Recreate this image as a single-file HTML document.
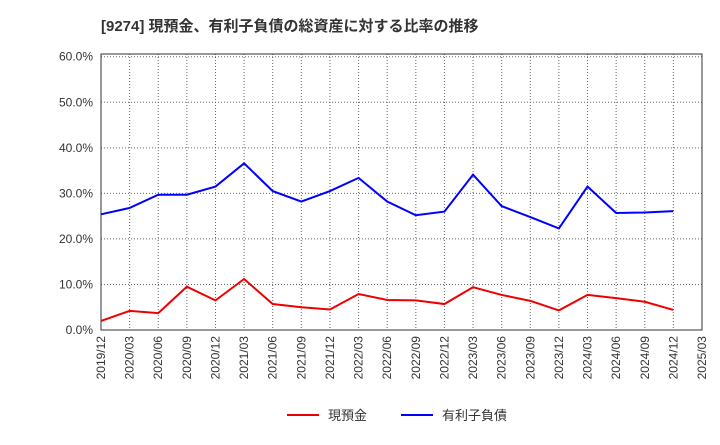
<!DOCTYPE html>
<html><head><meta charset="utf-8"><style>
body{margin:0;background:#fff;font-family:"Liberation Sans","Noto Sans CJK JP",sans-serif}
</style></head><body>
<svg id="c" width="720" height="440" xmlns="http://www.w3.org/2000/svg">
<text x="101" y="31" font-size="15" font-weight="bold" fill="#333" font-family="Liberation Sans, Noto Sans CJK JP, sans-serif">[9274]  現預金、有利子負債の総資産に対する比率の推移</text>
<g id="grid"></g><g id="axes"></g><g id="series"></g>
<g>
<line x1="287" y1="415" x2="319" y2="415" stroke="#e00" stroke-width="2"/>
<text x="328" y="420" font-size="13" fill="#333" font-family="Liberation Sans, Noto Sans CJK JP, sans-serif">現預金</text>
<line x1="401" y1="415" x2="433" y2="415" stroke="#00f" stroke-width="2"/>
<text x="442" y="420" font-size="13" fill="#333" font-family="Liberation Sans, Noto Sans CJK JP, sans-serif">有利子負債</text>
</g>
</svg>
<script>
const categories=["2019/12","2020/03","2020/06","2020/09","2020/12","2021/03","2021/06","2021/09","2021/12","2022/03","2022/06","2022/09","2022/12","2023/03","2023/06","2023/09","2023/12","2024/03","2024/06","2024/09","2024/12","2025/03"];
const cashValues=[2.0,4.2,3.7,9.5,6.5,11.2,5.7,5.0,4.5,7.9,6.6,6.5,5.7,9.4,7.7,6.4,4.3,7.7,7.0,6.2,4.4];
const debtValues=[25.4,26.8,29.7,29.7,31.5,36.6,30.5,28.2,30.5,33.4,28.2,25.2,26.0,34.1,27.2,24.8,22.3,31.5,25.7,25.8,26.1];
const yTicks=[0,10,20,30,40,50,60];
const NS="http://www.w3.org/2000/svg";
const L=101,R=702,T=54,B=330,yMax=60.6;
function xs(i){return L+i*(R-L)/(categories.length-1);}
function ys(v){return B-v/yMax*(B-T);}
function mk(t,a,p){const e=document.createElementNS(NS,t);for(const k in a)e.setAttribute(k,a[k]);p.appendChild(e);return e;}
const grid=document.getElementById('grid'),axes=document.getElementById('axes'),ser=document.getElementById('series');
const frame=mk('rect',{x:L,y:T,width:R-L,height:B-T,fill:'none',stroke:'#333'},axes);


yTicks.forEach(v=>{
 const g=mk('line',{x1:L,x2:R,y1:ys(v),y2:ys(v),stroke:'#666','stroke-dasharray':'1,2'},grid);
 
 
 const t=mk('text',{x:L-8,y:ys(v)+4,'text-anchor':'end','font-size':12,fill:'#333'},axes);
 t.textContent=v.toFixed(1)+'%';
 
 
});
categories.forEach((c,i)=>{
 const x=xs(i);
 const g=mk('line',{x1:x,x2:x,y1:T,y2:B,stroke:'#666','stroke-dasharray':'1,2'},grid);
 
 
 const t=mk('text',{x:x+4,y:B+6,'text-anchor':'end','font-size':12,fill:'#333',transform:`rotate(-90 ${x+4} ${B+6})`},axes);
 t.textContent=c;
 
 
});
function line(vals,color,name){
 const p=mk('polyline',{points:vals.map((v,i)=>xs(i)+','+ys(v)).join(' '),fill:'none',stroke:color,'stroke-width':2},ser);
 
 
}
line(cashValues,'#e00','cash-line');
line(debtValues,'#00f','debt-line');
</script>
</body></html>
